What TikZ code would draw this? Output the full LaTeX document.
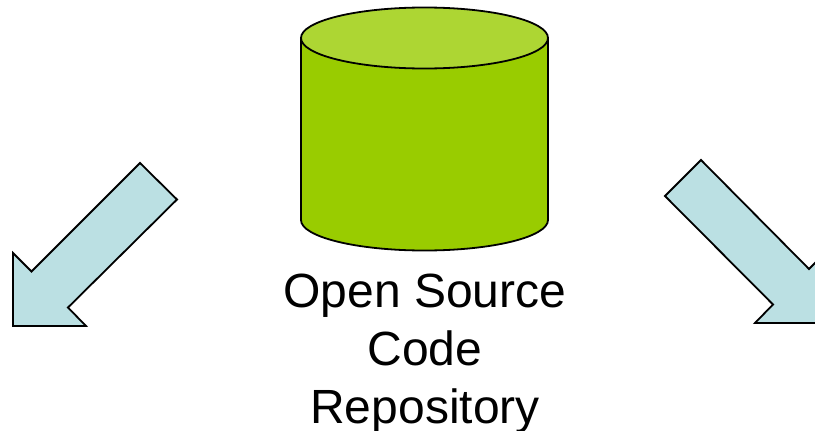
\documentclass[tikz,border=0pt]{standalone}
\usepackage{fontspec}
\setmainfont{Liberation Sans}
\definecolor{arrow blue}{HTML}{BBE0E3}
\definecolor{body green}{HTML}{99CC00}
\definecolor{lid green}{HTML}{ADD633}
\begin{document}
\begin{tikzpicture}[x=1pt,y=-1pt,
        fill arrow/.style={fill=arrow blue, draw=black, line width=1.8pt, line join=miter},
        fill body/.style={fill=body green, draw=black, line width=1.8pt},
        fill lid/.style={fill=lid green, draw=black, line width=1.8pt}]
        \useasboundingbox (0,0) rectangle (815,431);
        \clip (0,0) rectangle (815,431);

        % left arrow
        \draw[fill arrow](140,163)--(177,199.5)--(68,307.5)--(86,326)--(13,326)--(13,253)--(31.5,271.5)--cycle;
        % right arrow, its tip runs off the page
        \draw[fill arrow](701,160)--(665,196)--(773,304.5)--(755,323)--(828,323)--(828,250)--(809,269)--cycle;

        % repository
        \draw[fill body](301,38)--(301,220) arc[start angle=180,end angle=0,x radius=123.5,y radius=30.5]--(548,38)--cycle;
        \draw[fill lid ](424.5,38) ellipse[x radius=123.5,y radius=30.5];

        \node[align=center,inner sep=0pt,font=\fontsize{48}{58}\selectfont] (repo label) at (425,353.5) {Open Source\\Code\\Repository};
      \end{tikzpicture}
\end{document}
